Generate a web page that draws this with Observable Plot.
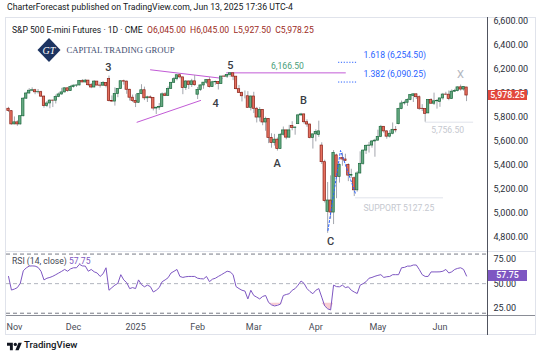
<!DOCTYPE html>
<html><head><meta charset="utf-8">
<script src="https://cdn.jsdelivr.net/npm/d3@7"></script>
<script src="https://cdn.jsdelivr.net/npm/@observablehq/plot@0.6"></script>
<style>
body{margin:0;background:#fff;width:540px;height:356px;overflow:hidden;position:relative;font-family:Roboto,"Noto Sans",sans-serif;color:#131722}
.abs{position:absolute}
.lbl{white-space:nowrap}
</style></head><body>
<div class="abs lbl" style="left:7px;top:2px;font-size:8.7px;color:#131722">CharterForecast published on TradingView.com, Jun 13, 2025 17:36 UTC-4</div>
<div class="abs" style="left:5px;top:17px;width:531px;height:318px;border:1px solid #e0e3eb;box-sizing:border-box"></div>
<div id="mainChart" class="abs" style="left:6px;top:17px"></div>
<div id="rsiChart" class="abs" style="left:6px;top:251px"></div>
<div class="abs" style="left:6px;top:251px;width:529px;height:1px;background:#e0e3eb"></div>
<div class="abs" style="left:6px;top:315px;width:529px;height:1px;background:#8a8d96"></div>
<div class="abs" style="left:487px;top:17px;width:1px;height:318px;background:#50535e"></div>
<div id="legend" class="abs lbl" style="left:12px;top:25px;font-size:8.6px"></div>
<div class="abs lbl" style="left:12px;top:256px;font-size:8.6px;color:#434651">RSI (14, close) <span style="color:#7e57c2">57.75</span></div>
<svg class="abs" style="left:36px;top:37px" width="160" height="26">
  <polygon points="13,1 24.5,13 13,25 1.5,13" fill="#1d3461"/>
  <text x="13" y="16.5" text-anchor="middle" font-family="Liberation Serif, serif" font-size="10" fill="#fff" font-style="italic">GT</text>
  <text x="30.5" y="16" font-family="Liberation Serif, serif" font-size="9" fill="#3c4a6e" textLength="108" lengthAdjust="spacingAndGlyphs">CAPITAL TRADING GROUP</text>
</svg>
<svg class="abs" style="left:7px;top:341px" width="15" height="11" viewBox="0 0 36 26">
  <path d="M14 22H7V11H0V4h14v18zM28 22h-8l7.5-18h8L28 22z" fill="#131722"/>
  <circle cx="20" cy="8" r="4" fill="#131722"/>
</svg>
<div class="abs lbl" style="left:24px;top:339px;font-size:9.6px;font-weight:500;color:#131722">TradingView</div>
<script>
// ---- data (E-mini S&P 500, daily, Oct 30 2024 .. Jun 13 2025) ----
const opens = [
5868,5848,5738,5755,5738,5806,5952,5995,6018,6022,
6005,6006,5969,5890,5912,5936,5935,5967,5987,6004,
6038,6015,6048,6060,6062,6098,6087,6102,6064,6045,
6094,6061,6060,6082,6115,5932,5928,5990,6032,6097,
6094,6026,5960,5933,5918,5990,6022,5955,5963,5958,
5870,5877,5883,5988,5975,6033,6084,6114,6147,6129,
6040,6095,6065,6096,5985,6025,6062,6085,6106,6048,
6088,6091,6073,6136,6135,6149,6163,6135,6031,6000,
5972,5972,5876,5970,5868,5795,5858,5754,5784,5626,
5584,5611,5533,5652,5688,5628,5725,5708,5740,5813,
5821,5756,5737,5625,5655,5650,5562,5424,5010,5105,
5005,5480,5300,5460,5446,5400,5312,5290,5190,5330,
5410,5520,5560,5562,5596,5603,5634,5718,5680,5636,
5660,5693,5740,5866,5912,5918,5942,5975,5988,5964,
5868,5865,5830,5940,5910,5930,5925,5954,5986,5985,
5950,6010,6015,6046,6028,6045];
const highs = [
5880,5852,5800,5768,5810,5960,6005,6035,6042,6030,
6028,6014,5975,5928,5942,5940,5982,6000,6038,6042,
6040,6060,6066,6066,6101,6111,6112,6104,6078,6102,
6095,6088,6094,6084,6140,5975,6042,6036,6098,6106,
6098,6030,5982,5985,5995,6068,6048,5972,5975,5962,
5880,5912,6000,6002,6050,6086,6128,6147,6156,6130,
6102,6098,6113,6145,6045,6066,6086,6108,6127,6096,
6098,6095,6137,6148,6150,6166.5,6165,6136,6062,6008,
6016,6010,5974,6005,5880,5877,5860,5798,5786,5660,
5655,5625,5660,5716,5690,5730,5760,5716,5822,5830,
5824,5776,5740,5658,5693,5765,5585,5440,5255,5310,
5520,5490,5410,5500,5490,5410,5365,5300,5345,5510,
5526,5566,5588,5604,5615,5690,5730,5720,5684,5686,
5750,5720,5872,5932,5932,5950,5985,5992,5992,5975,
5902,5870,5945,5952,5998,5945,5956,5996,6005,6016,
6025,6030,6050,6065,6052,6045];
const lows = [
5838,5732,5735,5722,5732,5800,5945,5990,6010,5985,
5990,5962,5873,5878,5868,5878,5908,5960,5980,6000,
6005,6012,6040,6045,6058,6085,6082,6053,6035,6043,
6060,6040,6055,6042,5925,5920,5890,5960,6030,6064,
5988,5932,5920,5878,5912,5985,5936,5920,5950,5850,
5820,5855,5878,5972,5972,6030,6080,6100,6116,5985,
6020,6028,6045,6055,5945,6012,6030,6072,6040,6045,
6064,6024,6070,6128,6120,6130,6102,6026,5995,5925,
5950,5873,5850,5828,5750,5758,5727,5681,5578,5540,
5558,5516,5530,5640,5610,5620,5685,5648,5738,5805,
5740,5714,5617,5533,5593,5630,5405,5085,4832,4950,
4905,5120,5250,5390,5430,5262,5290,5138,5175,5325,
5398,5488,5500,5540,5465,5598,5628,5665,5615,5625,
5652,5668,5735,5860,5898,5888,5935,5920,5945,5855,
5845,5756.5,5825,5905,5895,5865,5880,5940,5980,5935,
5945,6003,6008,6015,6015,5927.5];
const closes = [
5850,5738,5755,5738,5806,5952,5995,6018,6022,6005,
6006,5969,5890,5912,5936,5935,5967,5987,6004,6038,
6015,6048,6060,6062,6098,6087,6102,6064,6045,6094,
6061,6060,6082,6058,5932,5928,5990,6032,6097,6094,
6026,5960,5933,5918,5990,6022,5955,5963,5958,5870,
5877,5883,5988,5975,6033,6084,6114,6147,6129,6040,
6095,6065,6096,6064,6025,6062,6085,6106,6048,6088,
6091,6073,6136,6135,6149,6163,6135,6031,6000,5972,
5972,5876,5970,5868,5795,5858,5754,5784,5626,5584,
5611,5533,5652,5688,5628,5688,5708,5712,5813,5821,
5756,5737,5625,5655,5676,5680,5424,5100,5105,5005,
5500,5300,5400,5446,5435,5312,5318,5190,5330,5410,
5520,5560,5562,5596,5603,5634,5718,5680,5636,5660,
5693,5688,5866,5912,5918,5942,5982,5988,5964,5868,
5865,5826,5940,5910,5930,5932,5954,5986,5985,5950,
6010,6015,6046,6028,6050,5978.25];
const rsiValues = [
57.3,43.5,44.5,46,50.5,63,66,67.8,68,67.8,
66.5,62.6,53.8,55.5,56.3,57.5,59.1,60.8,62.5,64.4,
62.6,65,66.1,66.1,69.6,68,67.8,62.6,64.4,62,
60.8,57.3,60,66.1,43.3,46,48.5,50.3,59.1,53.8,
51,45,46,45,53.8,49,46.8,48.5,47,41.5,
43.3,46,52,53.8,56,60.8,62.5,64.4,57.3,56.3,
57,57.3,57.3,57.3,55.5,55,54.8,57.3,52,54.5,
55.5,57.3,59,60.8,62.6,61.9,59.1,47,45,43.3,
42.5,34.5,43.3,38,36.3,34.5,37,38,31,28.5,
27.4,28,29.2,38,39,39.8,43.3,45,48.5,52.7,
50.3,45,42,39.8,43.3,45,36.3,27.4,24.5,23.3,
48.5,47,46.8,48.5,46,46.8,43.3,41.5,40,48.5,
50,52,55.5,56.3,57.5,58.4,59.1,56.3,57,57.3,
59.1,59.1,59.1,66.1,66.5,67.8,67.8,68.9,68.9,64.4,
59.1,57.3,57.3,61.9,61.9,61.9,62,62.6,64.4,60.8,
62,64.4,65.5,66.1,64.4,57.75];
const monthLabels = ["Nov","Dec","2025","Feb","Mar","Apr","May","Jun"];
const monthStartIdx = [2,22,43,64,83,104,125,146];
const priceTicks = [4800,5000,5200,5400,5600,5800,6000,6200,6400,6600];
const rsiTicks = [25,50,75];
const rsiBands = [80,20];
const rsiMid = 50;
const lastClose = 5978.25;
const lastRsi = 57.75;
// annotations (bar index, price)
const waveLabels = [
  {t:"3", i:33.8, v:6214}, {t:"5", i:75.1, v:6224}, {t:"4", i:70.05, v:5912},
  {t:"B", i:99.8, v:5937}, {t:"A", i:90.9, v:5415}, {t:"C", i:108.96, v:4767}
];
const xLabel = [{t:"X", i:152.96, v:6150}];
const triangleUpper = [{i:48.05, v:6192},{i:72.3, v:6121}];
const triangleLower = [{i:43.5, v:5756},{i:65.0, v:5937}];
const wave5Level = [{i:73.8, v:6166.5},{i:114, v:6166.5}];
const wave5Text = [{t:"6,166.50", i:94.4, v:6166.5}];
const fibLevels = [{t:"1.618 (6,254.50)", v:6254.5},{t:"1.382 (6,090.25)", v:6090.25}];
const fibStart = 111.7, fibEnd = 118.1, fibText = 120.1;
const supportLevel = [{t:"SUPPORT 5127.25", v:5127.25, i1:117.4, i2:147.2, it:132.1}];
const lowLevel = [{t:"5,756.50", v:5756.5, i1:141.1, i2:157.4, it:148.6}];
const blueZigzag = [{i:108.1, v:4856},{i:112.35, v:5521},{i:117.4, v:5163}];

// ---- build ----
document.getElementById("legend").innerHTML =
  'S&amp;P 500 E-mini Futures · 1D · CME&nbsp; <span style="color:#9c2b23">O6,045.00&nbsp; H6,045.00&nbsp; L5,927.50&nbsp; C5,978.25</span>';

const candles = opens.map((o, i) => ({i, o, h: highs[i], l: lows[i], c: closes[i], up: closes[i] >= o}));
const rsiData = rsiValues.map((r, i) => ({i, r}));
const xDomain = [-0.68, 162.43];
const fmt2 = d3.format(",.2f");

const main = Plot.plot({
  width: 529, height: 234,
  marginLeft: 0, marginRight: 47, marginTop: 0, marginBottom: 0,
  x: {domain: xDomain, axis: null},
  y: {domain: [4681, 6627], axis: null},
  style: {fontFamily: "Roboto, 'Noto Sans', sans-serif", fontSize: "9px", color: "#2a2e39", background: "transparent"},
  marks: [
    Plot.axisY({anchor: "right", ticks: priceTicks, tickFormat: fmt2, tickSize: 0, tickPadding: 5, fontSize: 9, label: null}),
    Plot.line(triangleUpper, {x: "i", y: "v", stroke: "#c25bd6", strokeWidth: 1}),
    Plot.line(triangleLower, {x: "i", y: "v", stroke: "#c25bd6", strokeWidth: 1}),
    Plot.line(wave5Level, {x: "i", y: "v", stroke: "#c25bd6", strokeWidth: 1}),
    Plot.text(wave5Text, {x: "i", y: "v", text: "t", dy: -7, fill: "#4a9e7a", fontSize: 8.6}),
    Plot.ruleY(fibLevels, {y: "v", x1: fibStart, x2: fibEnd, stroke: "#2962ff", strokeDasharray: "1.2,1.6", strokeWidth: 1}),
    Plot.text(fibLevels, {x: fibText, y: "v", text: "t", textAnchor: "start", dy: -7.5, fill: "#2962ff", fontSize: 8.6}),
    Plot.ruleY(supportLevel, {y: "v", x1: "i1", x2: "i2", stroke: "#e0e3eb", strokeWidth: 1}),
    Plot.text(supportLevel, {x: "it", y: "v", text: "t", dy: 10, fill: "#c5c8cf", fontSize: 8.6}),
    Plot.ruleY(lowLevel, {y: "v", x1: "i1", x2: "i2", stroke: "#e0e3eb", strokeWidth: 1}),
    Plot.text(lowLevel, {x: "it", y: "v", text: "t", dy: 8, fill: "#c5c8cf", fontSize: 8.6}),
    Plot.ruleX(candles, {x: "i", y1: "l", y2: "h", stroke: "#a3a6ad", strokeWidth: 1}),
    Plot.rect(candles, {x1: d => d.i - 0.4, x2: d => d.i + 0.4, y1: "o", y2: "c",
      fill: d => d.up ? "#66a982" : "#e5705f", stroke: d => d.up ? "#1c6b3e" : "#8b1f15", strokeWidth: 0.7}),
    Plot.line(blueZigzag, {x: "i", y: "v", stroke: "#2962ff", strokeDasharray: "2,2", strokeWidth: 1}),
    Plot.text(waveLabels, {x: "i", y: "v", text: "t", fill: "#3a3d45", fontSize: 11, fontWeight: 500}),
    Plot.text(xLabel, {x: "i", y: "v", text: "t", fill: "#b2b5be", fontSize: 11})
  ]
});
document.getElementById("mainChart").appendChild(main);

const rsiPlot = Plot.plot({
  width: 529, height: 83,
  marginLeft: 0, marginRight: 47, marginTop: 0, marginBottom: 19,
  x: {domain: xDomain, axis: null},
  y: {domain: [17.7, 82.6], axis: null},
  style: {fontFamily: "Roboto, 'Noto Sans', sans-serif", fontSize: "9px", color: "#2a2e39", background: "transparent"},
  marks: [
    Plot.areaY(rsiData, {x: "i", y1: 30, y2: d => Math.min(d.r, 30), fill: "#f7c3cb", fillOpacity: 0.85, curve: "linear"}),
    Plot.ruleY(rsiBands, {stroke: "#787b86", strokeDasharray: "4,3", strokeWidth: 1}),
    Plot.ruleY([rsiMid], {stroke: "#b2b5be", strokeDasharray: "4,3", strokeWidth: 1}),
    Plot.line(rsiData, {x: "i", y: "r", stroke: "#7e57c2", strokeWidth: 1}),
    Plot.axisY({anchor: "right", ticks: rsiTicks, tickFormat: d3.format(".2f"), tickSize: 0, tickPadding: 5, fontSize: 9, label: null}),
    Plot.axisX({anchor: "bottom", ticks: monthStartIdx, tickFormat: d => monthLabels[monthStartIdx.indexOf(d)], tickSize: 0, tickPadding: 8, fontSize: 9, fill: "#4a4d57", label: null})
  ]
});
document.getElementById("rsiChart").appendChild(rsiPlot);

// last-value badges positioned through the plots' own y scales
function badge(y, text, bg) {
  const d = document.createElement("div");
  d.className = "abs lbl";
  d.style.cssText = `left:488px;top:${y - 5.4}px;width:39px;height:10.8px;background:${bg};color:#fff;font-size:8.8px;line-height:10.8px;text-align:center;font-weight:500`;
  d.textContent = text;
  document.body.appendChild(d);
}
badge(17 + main.scale("y").apply(lastClose), fmt2(lastClose), "#e2483d");
badge(251 + rsiPlot.scale("y").apply(lastRsi), d3.format(".2f")(lastRsi), "#7e57c2");
</script>
</body></html>
